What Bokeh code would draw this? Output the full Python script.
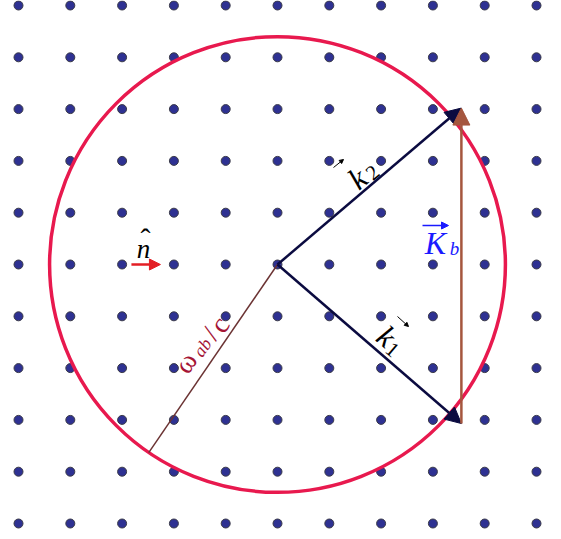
import math
from bokeh.plotting import figure
from bokeh.models import Range1d, Arrow, NormalHead
from bokeh.core.properties import value
from bokeh.embed import file_html
from bokeh.resources import INLINE

# ---- data (lattice units; centre of the Ewald sphere at origin) ----
lattice_i = [-5, -4, -3, -2, -1, 0, 1, 2, 3, 4, 5]
lattice_j = [-5, -4, -3, -2, -1, 0, 1, 2, 3, 4, 5]
sphere_radius = 4.40           # omega_ab / c
k1 = [3.55, -3.07]
k2 = [3.55, 3.02]
radius_angle_deg = 235.6       # direction of the drawn radius
n_hat_start = [-2.82, 0.0]
n_hat_vec = [0.56, 0.0]

# ---- layout helpers (pixel -> data) ----
S = 51.8
CX, CY = 277.0, 264.0
def P(x, y):
    return ((x - CX) / S, (CY - y) / S)

OX, OY = 0, 0
W, H = 561, 539
p = figure(width=W, height=H, output_backend="svg", toolbar_location=None,
           x_range=Range1d((OX - CX) / S, (OX + W - CX) / S),
           y_range=Range1d((CY - OY - H) / S, (CY - OY) / S),
           x_axis_type=None, y_axis_type=None, min_border=0,
           outline_line_color=None, background_fill_color="white")
p.grid.visible = False

# lattice dots
xs = [i for j in lattice_j for i in lattice_i]
ys = [j for j in lattice_j for i in lattice_i]
p.scatter(xs, ys, size=9, fill_color="#2e3192", line_color="#3a3a48", line_width=1)

# sphere
p.circle(x=[0], y=[0], radius=sphere_radius, fill_color=None,
         line_color="#e8194e", line_width=3.5)

# radius line
ra = math.radians(radius_angle_deg)
p.segment(x0=[0], y0=[0], x1=[sphere_radius * math.cos(ra)],
          y1=[sphere_radius * math.sin(ra)], line_color="#6b3333", line_width=1.5)

navy = "#0b0b40"
brown = "#a5563e"
for k in (k1, k2):
    p.add_layout(Arrow(x_start=0, y_start=0, x_end=k[0], y_end=k[1],
                       line_color=navy, line_width=2.5,
                       end=NormalHead(size=16, fill_color=navy, line_color=navy)))

# K_b = k2 - k1
p.add_layout(Arrow(x_start=k1[0], y_start=k1[1], x_end=k1[0] + (k2[0] - k1[0]),
                   y_end=k1[1] + (k2[1] - k1[1]),
                   line_color=brown, line_width=2.5,
                   end=NormalHead(size=17, fill_color=brown, line_color=brown)))

# n hat arrow
p.add_layout(Arrow(x_start=n_hat_start[0], y_start=n_hat_start[1],
                   x_end=n_hat_start[0] + n_hat_vec[0], y_end=n_hat_start[1] + n_hat_vec[1],
                   line_color="#e31e24", line_width=2.5,
                   end=NormalHead(size=11, fill_color="#e31e24", line_color="#e31e24")))

serif = value("Liberation Serif")

def txt(px, py, s, size, angle=0, color="black", style="normal"):
    x, y = P(px, py)
    p.text(x=[x], y=[y], text=[s], angle=angle, angle_units="deg",
           text_font=serif, text_font_size=f"{size}px", text_font_style=style,
           text_color=color, text_align="center", text_baseline="middle")

def small_arrow(a, b, color="black", lw=1, size=5):
    x0, y0 = P(*a)
    x1, y1 = P(*b)
    p.add_layout(Arrow(x_start=x0, y_start=y0, x_end=x1, y_end=y1,
                       line_color=color, line_width=lw,
                       end=NormalHead(size=size, fill_color=color, line_color=color)))

# k2 label
txt(357, 178, "k", 31, 40, style="italic")
txt(372, 172, "2", 21, 40)
small_arrow((333, 167), (343, 159), size=4)

# k1 label
txt(386, 336, "k", 31, -40, style="italic")
txt(392, 349, "1", 21, -40)
small_arrow((397, 316), (408, 326), size=4)

# K_b label
blue = "#1a1aff"
txt(435, 242, "K", 32, 0, color=blue, style="italic")
txt(454, 248, "b", 19, 0, color=blue, style="italic")
small_arrow((422, 225), (448, 225), color=blue, lw=1.5, size=7)

# n hat label
txt(143, 248, "n", 27, 0, style="italic")
txt(145, 238, "ˆ", 30, 0)

# omega_ab / c label
red = "#a51535"
txt(185, 362, "ω", 28, 55.5, color=red)
txt(202, 347, "ab", 18, 55.5, color=red, style="italic")
txt(210, 333, "/", 27, 55.5, color=red)
txt(219, 324, "c", 28, 55.5, color=red)

open("out.html", "w").write(file_html(p, INLINE))
